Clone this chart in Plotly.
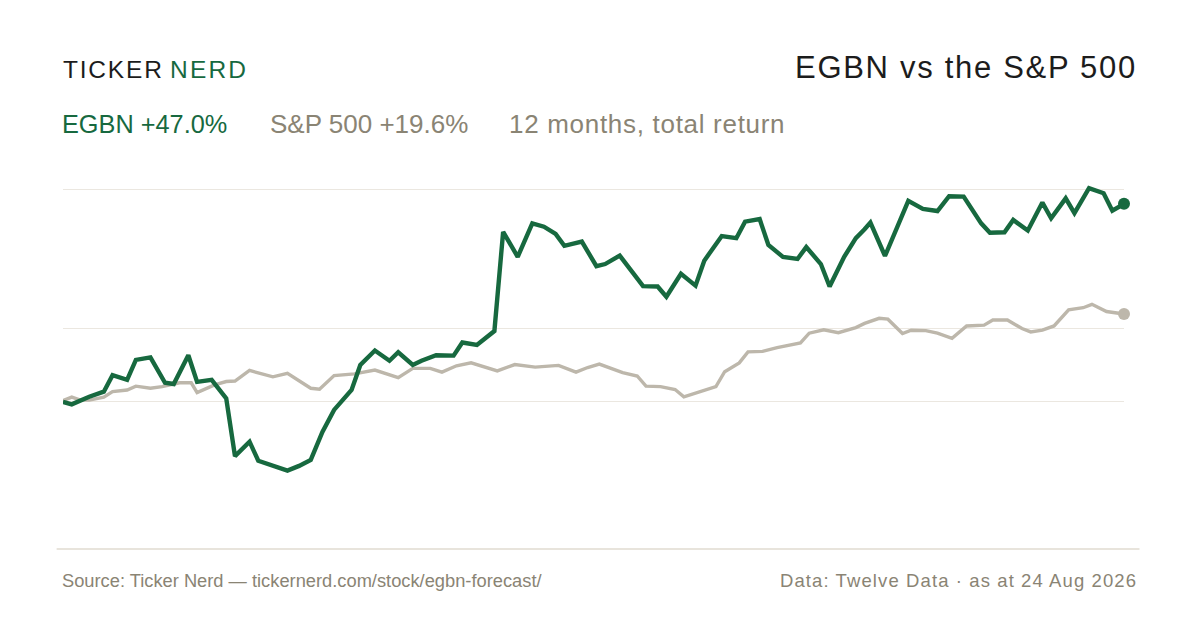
import plotly.graph_objects as go

# Cumulative total return (%); x = days since 25 Aug 2025
egbn_day = [0, 3, 9, 14, 17, 22, 25, 30, 35, 38, 43, 46, 51, 56, 59, 64, 67, 77, 81, 85,
            89, 93, 99, 102, 107, 112, 115, 120, 123, 128, 134, 137, 142, 148, 151, 156,
            161, 165, 169, 172, 178, 183, 186, 191, 199, 204, 207, 212, 217, 220, 226,
            231, 234, 239, 242, 247, 252, 255, 260, 263, 268, 272, 275, 277, 282, 290,
            295, 300, 304, 309, 315, 318, 323, 326, 331, 336, 339, 344, 347, 352, 357,
            360, 364]
egbn_ret = [-0.2, -0.8, 1.0, 2.2, 6.1, 5.0, 9.7, 10.3, 4.3, 4.0, 10.8, 4.5, 5.0, 0.6,
            -13.0, -9.6, -14.1, -16.4, -15.3, -13.9, -7.3, -2.1, 2.6, 8.5, 11.9, 9.5,
            11.5, 8.5, 9.5, 10.8, 10.7, 13.8, 13.2, 16.5, 39.9, 34.0, 41.9, 41.1, 39.4,
            36.6, 37.6, 31.8, 32.3, 34.3, 27.1, 27.0, 24.6, 30.0, 27.2, 33.1, 38.9,
            38.4, 42.3, 42.9, 36.8, 34.0, 33.5, 36.3, 32.3, 27.0, 34.0, 38.4, 40.5,
            42.1, 34.2, 47.2, 45.3, 44.8, 48.3, 48.2, 41.9, 39.7, 39.8, 42.7, 40.2,
            46.8, 43.1, 47.8, 44.3, 50.2, 49.0, 44.9, 46.5]

spx_day = [0, 3, 6, 9, 14, 17, 22, 25, 30, 34, 40, 44, 46, 52, 56, 59, 64, 68, 72, 77,
           85, 88, 93, 100, 107, 115, 120, 126, 130, 135, 140, 149, 155, 162, 170, 176,
           180, 184, 192, 197, 200, 205, 210, 213, 218, 224, 227, 232, 235, 240, 245,
           253, 256, 261, 266, 272, 275, 280, 283, 288, 291, 296, 300, 305, 310, 316,
           319, 324, 329, 332, 336, 340, 345, 350, 353, 358, 364]
spx_ret = [0.1, 0.9, 0.2, 0.2, 0.9, 2.2, 2.6, 3.5, 3.0, 3.4, 4.3, 4.3, 2.0, 3.8, 4.6,
           4.7, 7.2, 6.4, 5.7, 6.5, 3.0, 2.8, 6.0, 6.4, 7.3, 5.5, 7.7, 7.7, 6.8, 8.3,
           9.0, 7.1, 8.6, 8.0, 8.4, 6.8, 7.9, 8.7, 6.7, 5.9, 3.5, 3.4, 2.7, 1.0, 2.0,
           3.4, 6.9, 9.0, 11.6, 11.7, 12.6, 13.7, 16.0, 16.8, 16.1, 17.3, 18.3, 19.5,
           19.3, 15.9, 16.7, 16.6, 16.0, 14.8, 17.7, 17.9, 19.1, 19.1, 17.1, 16.3,
           16.7, 17.7, 21.5, 22.0, 22.8, 21.1, 20.5]

grid_levels = [0, 17, 50]

GREEN = "#17693f"
SAND = "#bdb7ab"
MUTED = "#8a8474"
INK = "#1c1c1c"
FONT = "Liberation Sans, Arial, sans-serif"

# the page body has an 8px margin, so everything is laid out 8px up/left
PAGE_PAD = 8

fig = go.Figure()

fig.add_trace(go.Scatter(
    x=spx_day, y=spx_ret, mode="lines",
    line=dict(color=SAND, width=3.4),
    hoverinfo="skip",
))
fig.add_trace(go.Scatter(
    x=egbn_day, y=egbn_ret, mode="lines",
    line=dict(color=GREEN, width=4.4),
    hoverinfo="skip",
))
# end-point dots
fig.add_trace(go.Scatter(
    x=[spx_day[-1]], y=[spx_ret[-1]], mode="markers",
    marker=dict(color=SAND, size=12), cliponaxis=False, hoverinfo="skip",
))
fig.add_trace(go.Scatter(
    x=[egbn_day[-1]], y=[egbn_ret[-1]], mode="markers",
    marker=dict(color=GREEN, size=12), cliponaxis=False, hoverinfo="skip",
))

# bottom rule, a little wider than the plot
fig.add_shape(type="line", xref="paper", yref="paper",
              x0=-0.006, x1=1.0146, y0=0, y1=0,
              line=dict(color="#e0dbd0", width=1.5))


def spaced(txt, px):
    return f"<span style='letter-spacing:{px}px'>{txt}</span>"


ann = [
    dict(text=spaced("TICKER", 1.8), x=61, y=70, size=24.5, color=INK, xanchor="left"),
    dict(text=spaced("NERD", 2.2), x=168, y=70, size=24.5, color=GREEN, xanchor="left"),
    dict(text=spaced("EGBN vs the S&P 500", 1.7), x=1139, y=67, size=31, color=INK,
         xanchor="right"),
    dict(text="EGBN +47.0%", x=60, y=124, size=25.3, color=GREEN, xanchor="left"),
    dict(text="S&P 500 +19.6%", x=268, y=124, size=26, color=MUTED, xanchor="left"),
    dict(text=spaced("12 months, total return", 0.7), x=507, y=124, size=26,
         color=MUTED, xanchor="left"),
    dict(text="Source: Ticker Nerd — tickernerd.com/stock/egbn-forecast/", x=60, y=580,
         size=18.3, color=MUTED, xanchor="left"),
    dict(text=spaced("Data: Twelve Data · as at 24 Aug 2026", 1.1), x=1139, y=580,
         size=18.5, color=MUTED, xanchor="right"),
]
# screen pixel -> paper coords (plot area sits at x 63..1124, y 180..549 on screen)
for a in ann:
    fig.add_annotation(
        text=a["text"], xref="paper", yref="paper",
        x=(a["x"] - 63) / 1061, y=(549 - a["y"]) / 369,
        xanchor=a["xanchor"], yanchor="middle", showarrow=False,
        font=dict(size=a["size"], color=a["color"], family=FONT),
    )

fig.update_xaxes(range=[0, 364], visible=False)
fig.update_yaxes(
    range=[(401 - 549) / 4.24, (401 - 180) / 4.24],
    tickvals=grid_levels, showticklabels=False,
    showgrid=True, gridcolor="#ebe7e0", gridwidth=1,
    zeroline=False, showline=False,
)
fig.update_layout(
    width=1200, height=630,
    margin=dict(l=63 - PAGE_PAD, r=76 + PAGE_PAD, t=180 - PAGE_PAD, b=81 + PAGE_PAD),
    plot_bgcolor="white", paper_bgcolor="white",
    showlegend=False, hovermode=False,
    font=dict(family=FONT),
)

fig.write_html("out.html", config={"displayModeBar": False})
